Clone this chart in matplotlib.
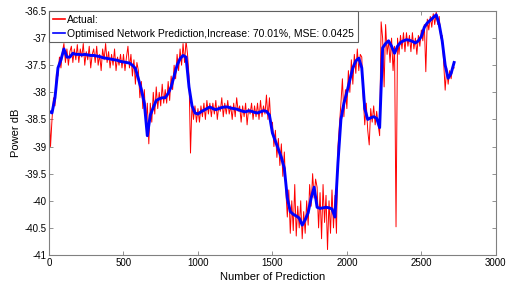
import numpy as np
import matplotlib
matplotlib.use("Agg")
import matplotlib.pyplot as plt

plt.rcParams['font.family'] = ['Liberation Sans', 'DejaVu Sans']

# prediction, one value every 20 samples (0 .. 2720)
pred_step = 20
pred_db = [
    -38.35, -38.38, -38.10, -37.55, -37.40, -37.20, -37.35, -37.35, -37.28, -37.30,
    -37.30, -37.31, -37.30, -37.31, -37.32, -37.32, -37.33, -37.34, -37.36, -37.37,
    -37.38, -37.39, -37.40, -37.41, -37.43, -37.44, -37.45, -37.46, -37.50, -37.56,
    -37.75, -37.95, -38.20, -38.80, -38.42, -38.28, -38.15, -38.12, -38.10, -38.10,
    -38.02, -37.90, -37.70, -37.50, -37.38, -37.32, -37.35, -37.90, -38.25, -38.38,
    -38.40, -38.36, -38.33, -38.30, -38.27, -38.30, -38.32, -38.30, -38.28, -38.27,
    -38.27, -38.29, -38.30, -38.31, -38.33, -38.35, -38.36, -38.34, -38.35, -38.37,
    -38.38, -38.36, -38.34, -38.35, -38.42, -38.75, -38.90, -39.05, -39.20, -39.40,
    -39.95, -40.20, -40.25, -40.28, -40.32, -40.45, -40.35, -40.22, -39.95, -39.75,
    -40.12, -40.14, -40.13, -40.12, -40.13, -40.15, -40.30, -39.30, -38.50, -38.20,
    -38.00, -37.77, -37.55, -37.42, -37.37, -37.55, -38.30, -38.50, -38.47, -38.45,
    -38.48, -38.65, -37.18, -37.10, -37.05, -37.15, -37.28, -37.15, -37.08, -37.05,
    -37.03, -37.04, -37.06, -37.09, -37.05, -36.97, -36.80, -36.72, -36.67, -36.62,
    -36.57, -36.75, -37.05, -37.50, -37.74, -37.65, -37.45,
]

# actual, one value every 10 samples (0 .. 2720)
actual_step = 10
actual_db = [
    -38.20, -39.00, -38.50, -38.10, -38.25, -37.65, -37.70, -37.35, -37.55, -37.25,
    -37.10, -37.45, -37.20, -37.50, -37.25, -37.15, -37.45, -37.20, -37.40, -37.12,
    -37.45, -37.20, -37.35, -37.10, -37.50, -37.25, -37.40, -37.15, -37.55, -37.30,
    -37.20, -37.45, -37.15, -37.50, -37.30, -37.60, -37.20, -37.40, -37.10, -37.45,
    -37.25, -37.55, -37.30, -37.50, -37.20, -37.60, -37.35, -37.50, -37.30, -37.55,
    -37.30, -37.60, -37.35, -37.15, -37.55, -37.30, -37.70, -37.40, -37.85, -37.45,
    -37.60, -38.10, -37.80, -38.30, -37.95, -38.60, -38.20, -38.95, -38.20, -38.55,
    -38.00, -38.40, -37.90, -38.30, -38.00, -38.25, -37.85, -38.20, -37.95, -38.20,
    -37.80, -38.15, -37.70, -37.95, -37.50, -37.75, -37.30, -37.60, -37.20, -37.50,
    -37.10, -37.45, -37.05, -37.30, -37.70, -39.12, -38.20, -38.50, -38.25, -38.55,
    -38.30, -38.55, -38.25, -38.45, -38.20, -38.50, -38.15, -38.40, -38.20, -38.45,
    -38.20, -38.40, -38.15, -38.50, -38.25, -38.35, -38.10, -38.45, -38.20, -38.40,
    -38.15, -38.40, -38.25, -38.50, -38.20, -38.45, -38.10, -38.35, -38.25, -38.55,
    -38.25, -38.45, -38.20, -38.60, -38.30, -38.40, -38.20, -38.50, -38.25, -38.45,
    -38.20, -38.50, -38.15, -38.45, -38.25, -38.40, -38.05, -38.50, -38.10, -38.60,
    -38.55, -39.00, -38.70, -39.20, -38.85, -39.35, -38.95, -39.55, -39.10, -39.80,
    -40.30, -39.80, -40.60, -40.00, -40.55, -39.70, -40.65, -40.10, -40.50, -40.00,
    -40.70, -40.20, -40.60, -40.00, -40.45, -39.70, -40.10, -39.50, -39.95, -39.60,
    -39.75, -40.50, -39.85, -40.70, -39.70, -40.40, -39.90, -40.90, -40.00, -40.60,
    -39.80, -40.50, -39.90, -40.60, -39.00, -38.60, -38.20, -37.75, -38.45, -37.95,
    -38.30, -37.60, -38.00, -37.40, -37.85, -37.30, -37.65, -37.20, -37.60, -37.30,
    -37.35, -38.10, -38.60, -38.20, -38.70, -38.97, -38.30, -38.55, -38.25, -38.60,
    -38.35, -38.60, -38.80, -36.70, -37.00, -37.90, -36.75, -37.30, -37.05, -37.45,
    -37.00, -37.60, -37.15, -40.48, -37.00, -37.30, -36.95, -37.20, -36.90, -37.25,
    -36.90, -37.15, -36.95, -37.25, -36.90, -37.20, -37.00, -37.30, -36.95, -37.15,
    -36.85, -37.05, -36.75, -37.62, -36.65, -36.85, -36.60, -36.80, -36.55, -36.75,
    -36.52, -36.75, -36.60, -37.00, -36.95, -37.45, -37.96, -37.55, -37.85, -37.60,
    -37.75, -37.50, -37.55,
]

x_ticks = [0, 500, 1000, 1500, 2000, 2500, 3000]
y_ticks = [-41, -40.5, -40, -39.5, -39, -38.5, -38, -37.5, -37, -36.5]

actual_x = np.arange(len(actual_db)) * actual_step
pred_x = np.arange(len(pred_db)) * pred_step

fig = plt.figure(figsize=(5.08, 2.87), dpi=100)
ax = fig.add_axes([0.0965, 0.1115, 0.8795, 0.8502])

ax.plot(actual_x, actual_db, color='red', lw=0.7, label='Actual:')
ax.plot(pred_x, pred_db, color='blue', lw=2.1,
        label='Optimised Network Prediction,Increase: 70.01%, MSE: 0.0425')

ax.set_xlim(0, 3000)
ax.set_ylim(-41, -36.5)
ax.set_xticks(x_ticks)
ax.set_yticks(y_ticks)
ax.set_yticklabels(['%g' % v for v in y_ticks])
ax.tick_params(direction='in', top=True, right=True, length=3, width=0.6,
               labelsize=7, color='#808080', pad=2)
for s in ax.spines.values():
    s.set_color('#808080')
    s.set_linewidth(0.8)

ax.set_xlabel('Number of Prediction', fontsize=8, labelpad=3)
ax.set_ylabel('Power dB', fontsize=8, labelpad=2)

leg = ax.legend(loc='upper left', borderaxespad=0, fontsize=7.5, fancybox=False,
                edgecolor='#606060', framealpha=1, handlelength=1.2,
                handletextpad=0.2, borderpad=0.35, labelspacing=0.4)
leg.get_frame().set_linewidth(0.8)
for line in leg.get_lines():
    line.set_linewidth(1.2)

fig.savefig('out.png', dpi=100)
